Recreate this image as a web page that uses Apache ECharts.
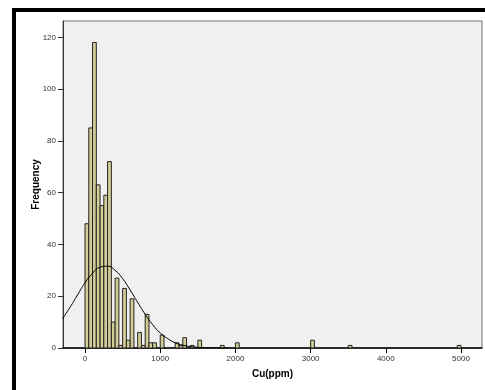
<!DOCTYPE html>
<html>
<head>
<meta charset="utf-8">
<title>Cu(ppm) histogram</title>
<script src="https://cdn.jsdelivr.net/npm/echarts@6/dist/echarts.min.js"></script>
<style>
  html, body { margin: 0; padding: 0; background: #fff; }
  #chart { width: 485px; height: 390px; }
</style>
</head>
<body>
<div id="chart"></div>
<script>
    // histogram bins (ppm), width 50
    var binWidth = 50;
    var binStart = [0, 50, 100, 150, 200, 250, 300, 350, 400, 450, 500, 550, 600, 700, 750, 800, 850, 900, 1000,
                    1200, 1250, 1300, 1400, 1500, 1800, 2000, 3000, 3500, 4950];
    var binCount = [48, 85, 118, 63, 55, 59, 72, 10, 27, 1, 23, 3, 19, 6, 1, 13, 2, 2, 5,
                    2, 1, 4, 1, 3, 1, 2, 3, 1, 1];

    // normal curve
    var curveX = [-300, -200, -100, 0, 100, 200, 300, 400, 500, 600, 700, 800, 900, 1000,
                  1100, 1200, 1300, 1400, 1500, 1600, 1700, 1800, 1900];
    var curveY = [11.3, 15.7, 20.5, 25.2, 28.9, 31.2, 31.6, 30.0, 26.8, 22.4, 17.6, 13.0, 9.0, 5.8,
                  3.6, 2.0, 1.1, 0.55, 0.26, 0.1, 0.05, 0.02, 0];

    var xTicks = [0, 1000, 2000, 3000, 4000, 5000];
    var yTicks = [0, 20, 40, 60, 80, 100, 120];

    var bars = [];
    for (var i = 0; i < binStart.length; i++) {
        bars.push([binStart[i], binStart[i] + binWidth, binCount[i]]);
    }
    var curve = [];
    for (var j = 0; j < curveX.length; j++) {
        curve.push([curveX[j], curveY[j]]);
    }

    var plain = function (v) { return String(v); };

    var myChart = echarts.init(document.getElementById('chart'));
    var font = 'Liberation Sans, Arial, sans-serif';
    var option = {
        backgroundColor: '#fff',
        animation: false,
        textStyle: { fontFamily: font },
        graphic: [{
            type: 'rect',
            shape: { x: 14, y: 10, width: 490, height: 400 },
            style: { fill: 'none', stroke: '#000', lineWidth: 4 },
            silent: true
        }],
        grid: {
            left: 63,
            top: 21,
            right: 3,
            bottom: 42,
            show: true,
            backgroundColor: '#f0f0f0',
            borderColor: '#707070',
            borderWidth: 1
        },
        xAxis: {
            type: 'value',
            min: -293,
            max: 5279,
            name: 'Cu(ppm)',
            nameLocation: 'middle',
            nameGap: 21,
            nameTextStyle: { fontSize: 10, fontWeight: 'bold', color: '#000', fontFamily: font },
            axisLine: { show: true, onZero: false, lineStyle: { color: '#000', width: 1.5 } },
            axisTick: { show: true, length: 5, customValues: xTicks, lineStyle: { color: '#000' } },
            axisLabel: { customValues: xTicks, formatter: plain, fontSize: 8, color: '#333', margin: 7, fontFamily: font },
            splitLine: { show: false }
        },
        yAxis: {
            type: 'value',
            min: 0,
            max: 126.3,
            name: 'Frequency',
            nameLocation: 'middle',
            nameGap: 22,
            nameMoveOverlap: false,
            nameTextStyle: { fontSize: 10, fontWeight: 'bold', color: '#000', fontFamily: font },
            axisLine: { show: true, onZero: false, lineStyle: { color: '#333', width: 1 } },
            axisTick: { show: true, length: 5, customValues: yTicks, lineStyle: { color: '#333' } },
            axisLabel: { customValues: yTicks, formatter: plain, fontSize: 8, color: '#333', margin: 7, fontFamily: font },
            splitLine: { show: false }
        },
        series: [
            {
                type: 'custom',
                data: bars,
                encode: { x: [0, 1], y: 2 },
                renderItem: function (params, api) {
                    var p0 = api.coord([api.value(0), api.value(2)]);
                    var p1 = api.coord([api.value(1), 0]);
                    return {
                        type: 'rect',
                        shape: { x: p0[0], y: p0[1], width: p1[0] - p0[0], height: p1[1] - p0[1] },
                        style: { fill: '#d3ce97', stroke: '#222', lineWidth: 1 }
                    };
                }
            },
            {
                type: 'line',
                data: curve,
                smooth: true,
                symbol: 'none',
                clip: true,
                lineStyle: { color: '#000', width: 1 },
                z: 3
            }
        ]
    };
    myChart.setOption(option);
</script>
</body>
</html>
